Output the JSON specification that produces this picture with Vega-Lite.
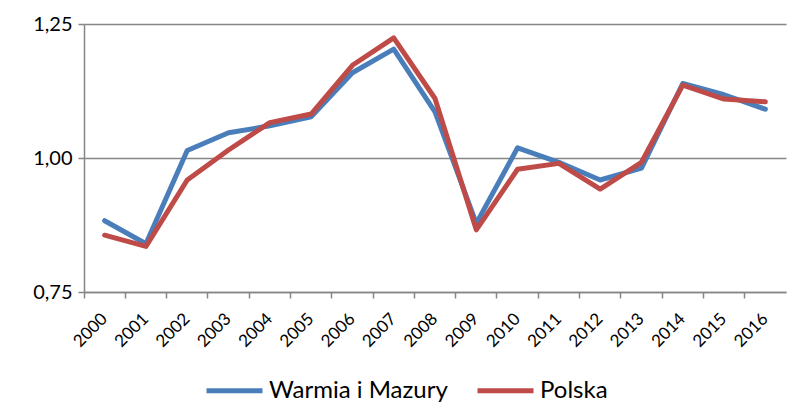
{
  "$schema": "https://vega.github.io/schema/vega-lite/v6.json",
  "autosize": "none",
  "width": 702,
  "height": 268,
  "padding": {"left": 84, "top": 24, "right": 1, "bottom": 111},
  "background": "white",
  "config": {
    "font": "Lato",
    "view": {"stroke": null}
  },
  "data": {
    "values": [
      {"rok": "2000", "seria": "Warmia i Mazury", "v": 0.883},
      {"rok": "2001", "seria": "Warmia i Mazury", "v": 0.840},
      {"rok": "2002", "seria": "Warmia i Mazury", "v": 1.014},
      {"rok": "2003", "seria": "Warmia i Mazury", "v": 1.047},
      {"rok": "2004", "seria": "Warmia i Mazury", "v": 1.060},
      {"rok": "2005", "seria": "Warmia i Mazury", "v": 1.077},
      {"rok": "2006", "seria": "Warmia i Mazury", "v": 1.159},
      {"rok": "2007", "seria": "Warmia i Mazury", "v": 1.203},
      {"rok": "2008", "seria": "Warmia i Mazury", "v": 1.086},
      {"rok": "2009", "seria": "Warmia i Mazury", "v": 0.878},
      {"rok": "2010", "seria": "Warmia i Mazury", "v": 1.019},
      {"rok": "2011", "seria": "Warmia i Mazury", "v": 0.992},
      {"rok": "2012", "seria": "Warmia i Mazury", "v": 0.959},
      {"rok": "2013", "seria": "Warmia i Mazury", "v": 0.981},
      {"rok": "2014", "seria": "Warmia i Mazury", "v": 1.139},
      {"rok": "2015", "seria": "Warmia i Mazury", "v": 1.118},
      {"rok": "2016", "seria": "Warmia i Mazury", "v": 1.091},
      {"rok": "2000", "seria": "Polska", "v": 0.856},
      {"rok": "2001", "seria": "Polska", "v": 0.835},
      {"rok": "2002", "seria": "Polska", "v": 0.959},
      {"rok": "2003", "seria": "Polska", "v": 1.015},
      {"rok": "2004", "seria": "Polska", "v": 1.066},
      {"rok": "2005", "seria": "Polska", "v": 1.082},
      {"rok": "2006", "seria": "Polska", "v": 1.173},
      {"rok": "2007", "seria": "Polska", "v": 1.224},
      {"rok": "2008", "seria": "Polska", "v": 1.111},
      {"rok": "2009", "seria": "Polska", "v": 0.866},
      {"rok": "2010", "seria": "Polska", "v": 0.979},
      {"rok": "2011", "seria": "Polska", "v": 0.990},
      {"rok": "2012", "seria": "Polska", "v": 0.942},
      {"rok": "2013", "seria": "Polska", "v": 0.992},
      {"rok": "2014", "seria": "Polska", "v": 1.136},
      {"rok": "2015", "seria": "Polska", "v": 1.110},
      {"rok": "2016", "seria": "Polska", "v": 1.105}
    ]
  },
  "mark": {"type": "line", "strokeWidth": 5, "strokeJoin": "round", "strokeCap": "round"},
  "encoding": {
    "x": {
      "field": "rok",
      "type": "ordinal",
      "title": null,
      "scale": {"type": "band", "paddingInner": 0, "paddingOuter": 0},
      "axis": {
        "bandPosition": 0,
        "labelOffset": 0,
        "labelAngle": -45,
        "labelAlign": "right",
        "labelBaseline": "middle",
        "labelFontSize": 17,
        "labelColor": "#000000",
        "labelPadding": 18,
        "domainColor": "#868686",
        "domainWidth": 1.5,
        "tickColor": "#868686",
        "tickWidth": 1.5,
        "tickSize": 6,
        "grid": false
      }
    },
    "y": {
      "field": "v",
      "type": "quantitative",
      "title": null,
      "scale": {"domain": [0.75, 1.25], "zero": false, "nice": false},
      "axis": {
        "values": [0.75, 1.0, 1.25],
        "labelExpr": "replace(format(datum.value, '.2f'), '.', ',')",
        "labelFontSize": 20,
        "labelColor": "#000000",
        "labelPadding": 6,
        "domainColor": "#868686",
        "domainWidth": 1.5,
        "tickColor": "#868686",
        "tickWidth": 1.5,
        "tickSize": 6,
        "grid": true,
        "gridColor": "#868686",
        "gridWidth": 1.5
      }
    },
    "color": {
      "field": "seria",
      "type": "nominal",
      "title": null,
      "sort": ["Warmia i Mazury", "Polska"],
      "scale": {"domain": ["Warmia i Mazury", "Polska"], "range": ["#4A7EBB", "#BE4B48"]},
      "legend": {
        "orient": "none",
        "direction": "horizontal",
        "legendX": 120,
        "legendY": 336,
        "symbolType": "stroke",
        "symbolSize": 3136,
        "symbolStrokeWidth": 5,
        "labelFontSize": 24,
        "labelColor": "#000000",
        "labelOffset": 4,
        "columnPadding": 19,
        "labelLimit": 300
      }
    }
  }
}
